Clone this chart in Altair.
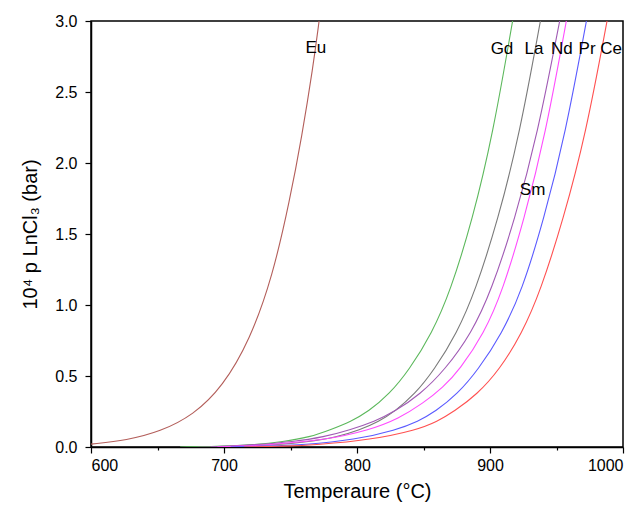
import altair as alt
import pandas as pd

# ---- data (temperature °C, 10^4 p LnCl3 in bar) ----
eu_T = [600, 627, 652, 677, 699, 719.5, 736.5, 749.5, 758.5, 767, 771.5]
eu_p = [0.02, 0.048, 0.108, 0.225, 0.425, 0.754, 1.2, 1.74, 2.185, 2.68, 3.0]

gd_T = [667, 700, 721, 744.5, 764.7, 779.6, 795.6, 808.6, 824.1, 839.2, 856.3, 870.3, 886.8, 902.1, 917]
gd_p = [0.0, 0.005, 0.015, 0.037, 0.07, 0.12, 0.18, 0.25, 0.37, 0.542, 0.8, 1.1, 1.6, 2.2, 3.0]

la_T = [680, 715, 737.6, 762, 785, 802, 816.5, 828.3, 843.3, 858, 875, 889, 906, 922.2, 937.9]
la_p = [0.0, 0.005, 0.015, 0.035, 0.07, 0.12, 0.18, 0.25, 0.37, 0.542, 0.8, 1.1, 1.6, 2.2, 3.0]

nd_T = [690, 700, 723, 752, 775, 794.6, 813.3, 828.4, 847.4, 866, 886, 901, 918.6, 935.7, 952.4]
nd_p = [0.0, 0.005, 0.015, 0.037, 0.07, 0.12, 0.18, 0.25, 0.37, 0.542, 0.8, 1.1, 1.6, 2.2, 3.0]

sm_T = [695, 710, 734.6, 776.8, 809.6, 831.3, 849.7, 864.7, 877, 895.5, 909.5, 925.6, 941.7, 957.4]
sm_p = [0.0, 0.005, 0.015, 0.05, 0.12, 0.2, 0.308, 0.42, 0.542, 0.8, 1.1, 1.6, 2.2, 3.0]

pr_T = [705, 730, 760.7, 798.1, 829.7, 845.9, 859, 875.2, 891, 909, 924, 940.4, 956.6, 972.5]
pr_p = [0.0, 0.005, 0.015, 0.05, 0.12, 0.18, 0.25, 0.37, 0.542, 0.8, 1.1, 1.6, 2.2, 3.0]

ce_T = [715, 745, 770, 810, 845, 860.4, 873, 890.2, 907, 924, 938, 955, 972, 988]
ce_p = [0.0, 0.005, 0.015, 0.05, 0.12, 0.18, 0.25, 0.37, 0.542, 0.8, 1.1, 1.6, 2.2, 3.0]

series_names = ["Eu", "Gd", "La", "Nd", "Sm", "Pr", "Ce"]
series_colors = ["#B35E5A", "#5CB85C", "#7A7A7A", "#A05AB4", "#FF4CFF", "#5A5AFF", "#FF5050"]

label_text = ["Eu", "Gd", "La", "Nd", "Pr", "Ce", "Sm"]
label_T = [769, 909, 933, 954, 973, 991, 932]
label_p = [2.81, 2.8, 2.8, 2.8, 2.8, 2.8, 1.81]

x_ticks = [600, 650, 700, 750, 800, 850, 900, 950, 1000]
y_ticks = [0.0, 0.25, 0.5, 0.75, 1.0, 1.25, 1.5, 1.75, 2.0, 2.25, 2.5, 2.75, 3.0]

# ---- build tables ----
all_T = [eu_T, gd_T, la_T, nd_T, sm_T, pr_T, ce_T]
all_p = [eu_p, gd_p, la_p, nd_p, sm_p, pr_p, ce_p]
rows = []
for name, Ts, ps in zip(series_names, all_T, all_p):
    for i, (t, p) in enumerate(zip(Ts, ps)):
        rows.append({"series": name, "T": t, "p": p, "order": i})
df = pd.DataFrame(rows)
labels = pd.DataFrame({"text": label_text, "T": label_T, "p": label_p})

FONT = "Liberation Sans"
xscale = alt.Scale(domain=[600, 1000], nice=False)
yscale = alt.Scale(domain=[0, 3], nice=False)

x_major_test = "datum.value % 100 === 0"
y_major_test = "round(datum.value * 4) % 2 === 0"

x_axis = alt.Axis(values=x_ticks, orient="bottom", grid=False,
                  labelExpr="datum.value % 100 === 0 ? format(datum.value, 'd') : ''",
                  tickSize={"condition": {"test": x_major_test, "value": 6}, "value": 3},
                  tickWidth=1.2, tickColor="black",
                  domainColor="black", domainWidth=1.5,
                  labelFont=FONT, labelFontSize=16, labelColor="black", labelPadding=4,
                  labelOverlap=False,
                  title="Temperaure (°C)", titleFont=FONT, titleFontSize=20,
                  titleFontWeight="normal", titleColor="black", titlePadding=8)
y_axis = alt.Axis(values=y_ticks, orient="left", grid=False,
                  labelExpr="round(datum.value * 4) % 2 === 0 ? format(datum.value, '.1f') : ''",
                  tickSize={"condition": {"test": y_major_test, "value": 6}, "value": 3},
                  tickWidth=1.2, tickColor="black",
                  domainColor="black", domainWidth=1.5,
                  labelFont=FONT, labelFontSize=16, labelColor="black", labelPadding=8,
                  labelOverlap=False,
                  title="10⁴ p LnCl₃ (bar)", titleFont=FONT, titleFontSize=20,
                  titleFontWeight="normal", titleColor="black", titlePadding=14)

lines = alt.Chart(df).mark_line(interpolate="basis", strokeWidth=1.1, clip=True).encode(
    x=alt.X("T:Q", scale=xscale, axis=x_axis),
    y=alt.Y("p:Q", scale=yscale, axis=y_axis),
    color=alt.Color("series:N", scale=alt.Scale(domain=series_names, range=series_colors), legend=None),
    detail="series:N",
    order="order:Q",
)

text = alt.Chart(labels).mark_text(font=FONT, fontSize=17, color="black",
                                   align="center", baseline="middle").encode(
    x=alt.X("T:Q", scale=xscale),
    y=alt.Y("p:Q", scale=yscale),
    text="text:N",
)

chart = alt.layer(lines, text).properties(
    width=532, height=426,
    autosize=alt.AutoSizeParams(type="none"),
    padding={"left": 91, "top": 21, "right": 17, "bottom": 58},
    background="white",
).configure_view(stroke="black", strokeWidth=1.5)

chart.save("out.html", embed_options={"renderer": "svg", "actions": False})
